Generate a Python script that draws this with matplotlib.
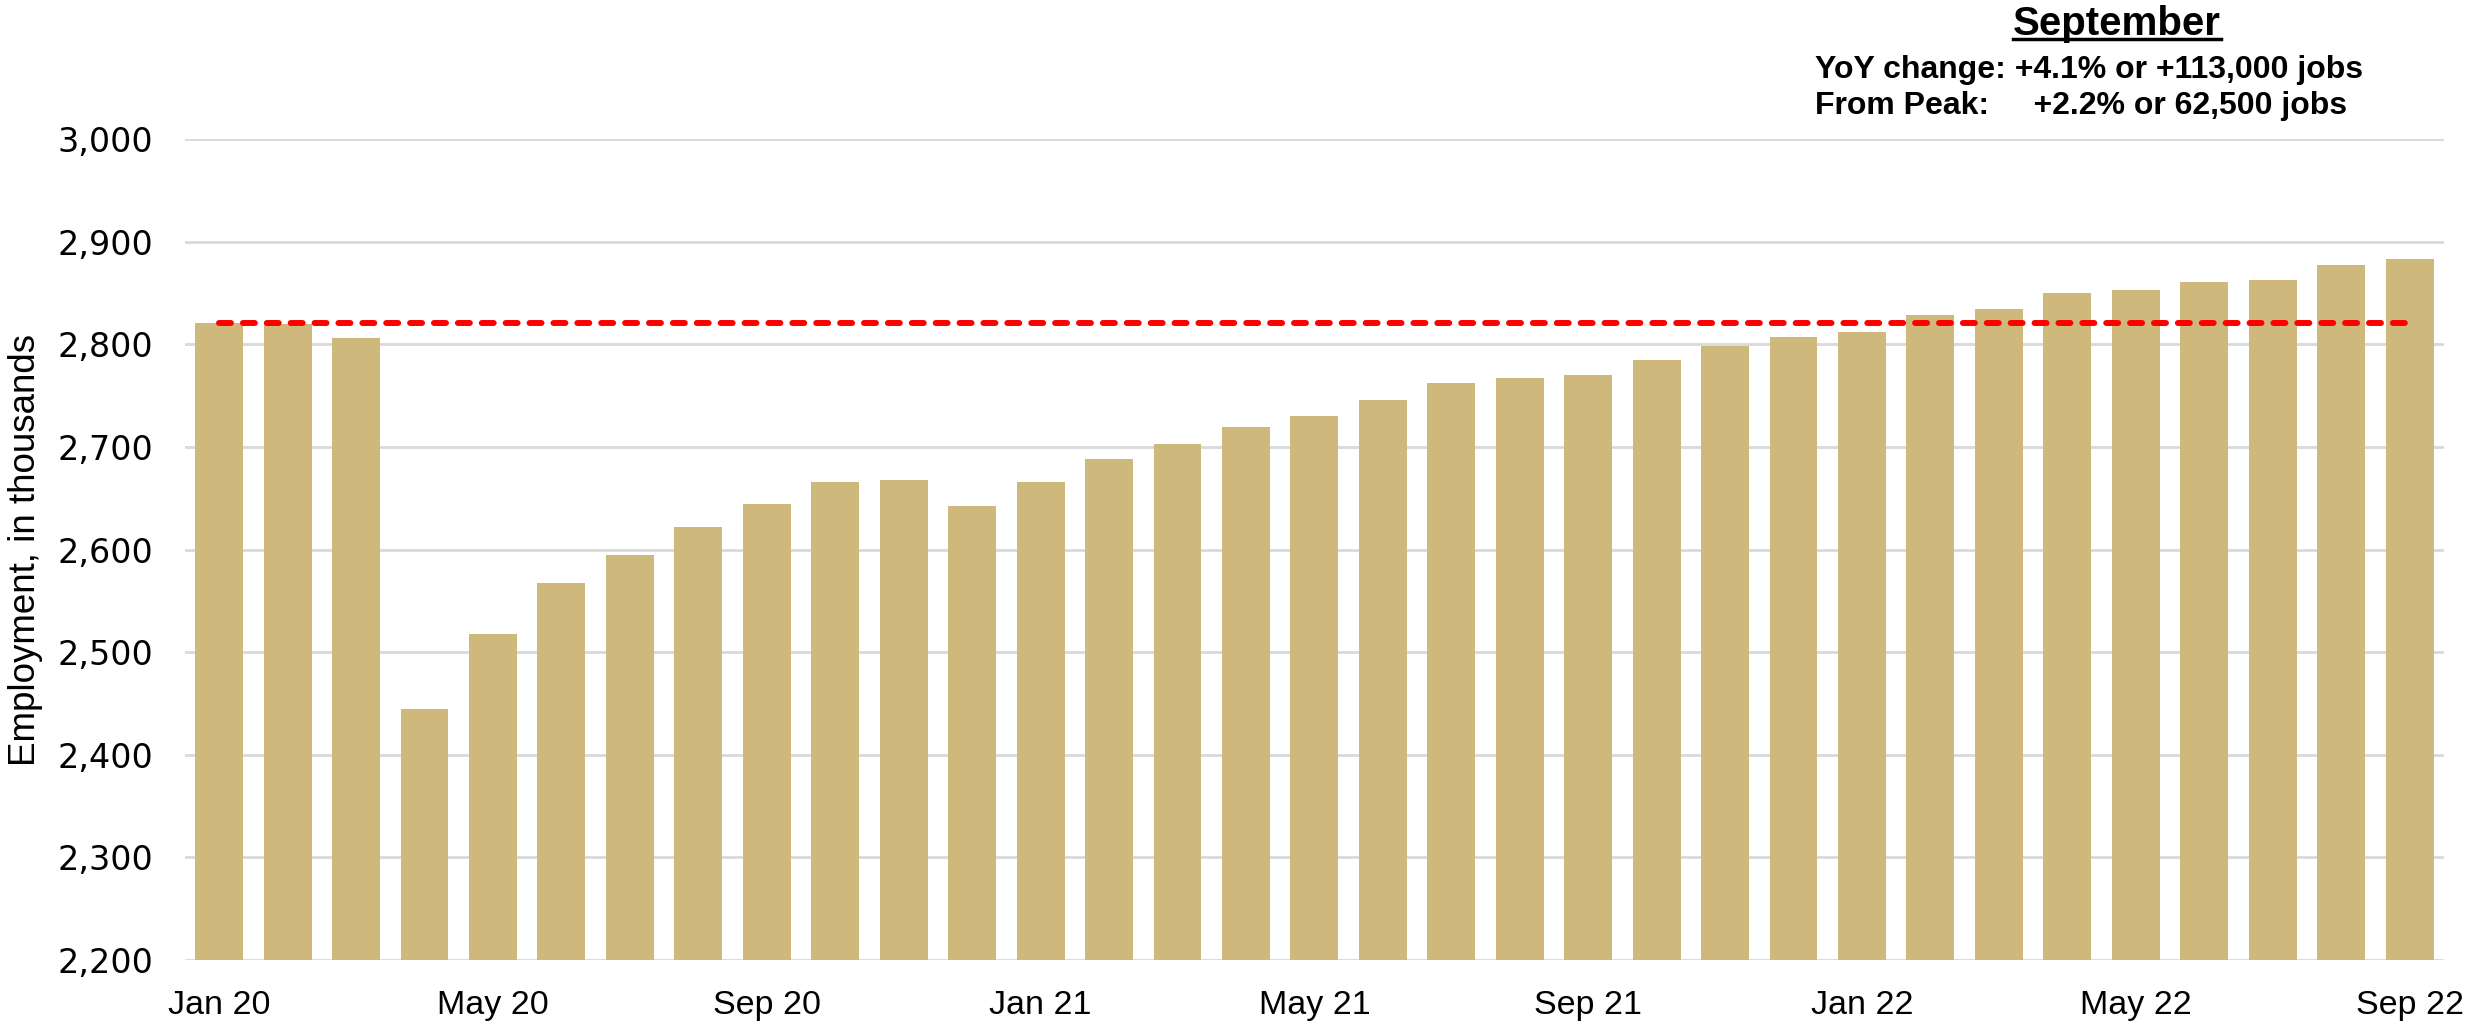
import matplotlib
matplotlib.use("Agg")
import matplotlib.pyplot as plt
from matplotlib.lines import Line2D

# monthly employment, thousands (Jan 2020 - Sep 2022)
months = ['Jan 20', 'Feb 20', 'Mar 20', 'Apr 20', 'May 20', 'Jun 20', 'Jul 20', 'Aug 20',
          'Sep 20', 'Oct 20', 'Nov 20', 'Dec 20', 'Jan 21', 'Feb 21', 'Mar 21', 'Apr 21',
          'May 21', 'Jun 21', 'Jul 21', 'Aug 21', 'Sep 21', 'Oct 21', 'Nov 21', 'Dec 21',
          'Jan 22', 'Feb 22', 'Mar 22', 'Apr 22', 'May 22', 'Jun 22', 'Jul 22', 'Aug 22',
          'Sep 22']
employment = [2820.5, 2819.5, 2806.5, 2444.5, 2517.5, 2567.5, 2594.5, 2622, 2644, 2666, 2668, 2642.5,
              2665.5, 2688.5, 2703, 2719.5, 2730.5, 2745.5, 2762.5, 2767, 2770, 2784.5, 2798.5, 2807,
              2812.5, 2828.5, 2834, 2850, 2853, 2860.5, 2862.5, 2877.5, 2883]
peak = 2820.5
yticks = [2200, 2300, 2400, 2500, 2600, 2700, 2800, 2900, 3000]
xtick_labels = ['Jan 20', 'May 20', 'Sep 20', 'Jan 21', 'May 21', 'Sep 21', 'Jan 22', 'May 22', 'Sep 22']

sans = 'Liberation Sans'

fig = plt.figure(figsize=(24.76, 10.31), dpi=100)
ax = fig.add_axes([0.0747, 0.069, 0.9123, 0.796])

x = list(range(len(months)))
ax.bar(x, employment, width=0.70, color='#CEB87C', zorder=2)
ax.plot(x, [peak] * len(x), color='#FF0000', linewidth=4.3, linestyle=(0, (2, 2)),
        dash_capstyle='round', zorder=3)

ax.set_ylim(2200, 3000)
ax.set_xlim(-0.5, len(months) - 0.5)
ax.set_yticks(yticks)
ax.set_yticklabels(['{:,}'.format(v) for v in yticks], fontsize=24, family='DejaVu Sans')
ax.set_xticks([months.index(m) for m in xtick_labels])
ax.set_xticklabels(xtick_labels, fontsize=24.5, family=sans)
ax.tick_params(axis='both', length=0)
ax.tick_params(axis='y', pad=23)
ax.tick_params(axis='x', pad=22)
ax.grid(axis='y', color='#D9D9D9', linewidth=2, zorder=0)
for s in ax.spines.values():
    s.set_visible(False)
ax.set_ylabel('Employment, in thousands', fontsize=26.5, family=sans, labelpad=10)

# annotation box
t = fig.text(0.855, 0.977, 'September', ha='center', va='center', fontsize=29,
             fontweight='bold', family=sans)
fig.text(0.733, 0.932, 'YoY change: +4.1% or +113,000 jobs', ha='left', va='center',
         fontsize=23, fontweight='bold', family=sans)
fig.text(0.733, 0.897, 'From Peak:     +2.2% or 62,500 jobs', ha='left', va='center',
         fontsize=23, fontweight='bold', family=sans)

fig.canvas.draw()
bb = t.get_window_extent().transformed(fig.transFigure.inverted())
fig.add_artist(Line2D([bb.x0, bb.x1], [bb.y0 + 0.004, bb.y0 + 0.004], color='black',
                      linewidth=2.5, transform=fig.transFigure))

fig.savefig('out.png', dpi=100)
